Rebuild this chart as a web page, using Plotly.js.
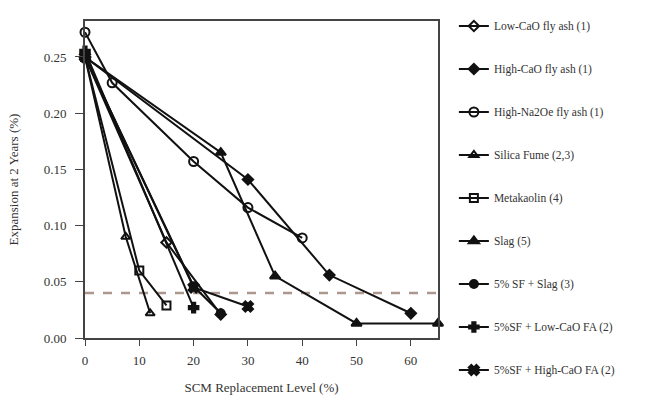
<!DOCTYPE html>
<html>
<head>
<meta charset="utf-8">
<script src="https://cdn.plot.ly/plotly-3.0.1.min.js"></script>
<style>html,body{margin:0;padding:0;background:#fff;}#chart{width:663px;height:409px;}</style>
</head>
<body>
<div id="chart"></div>
<script>
// Series names (legend)
const seriesNames = [
  "Low-CaO fly ash (1)",
  "High-CaO fly ash (1)",
  "High-Na2Oe fly ash (1)",
  "Silica Fume (2,3)",
  "Metakaolin (4)",
  "Slag (5)",
  "5% SF + Slag (3)",
  "5%SF + Low-CaO FA (2)",
  "5%SF + High-CaO FA (2)"
];
// Replacement levels (%) and expansions (%)
const lowCaO_x = [0, 15, 25];
const lowCaO_y = [0.25, 0.085, 0.021];
const highCaO_x = [0, 30, 45, 60];
const highCaO_y = [0.25, 0.141, 0.056, 0.022];
const highNa_x = [0, 5, 20, 30, 40];
const highNa_y = [0.272, 0.227, 0.157, 0.116, 0.089];
const sf_x = [0, 7.5, 12];
const sf_y = [0.25, 0.09, 0.022];
const mk_x = [0, 10, 15];
const mk_y = [0.25, 0.06, 0.029];
const slag_x = [0, 25, 35, 50, 65];
const slag_y = [0.25, 0.165, 0.055, 0.013, 0.013];
const sfSlag_x = [0, 20, 25];
const sfSlag_y = [0.25, 0.046, 0.022];
const sfLow_x = [0, 20];
const sfLow_y = [0.255, 0.027];
const sfHigh_x = [0, 20, 30];
const sfHigh_y = [0.25, 0.045, 0.028];
// Limit line
const limit_x = [0, 65];
const limit_y = [0.04, 0.04];

const xs = [lowCaO_x, highCaO_x, highNa_x, sf_x, mk_x, slag_x, sfSlag_x, sfLow_x, sfHigh_x];
const ys = [lowCaO_y, highCaO_y, highNa_y, sf_y, mk_y, slag_y, sfSlag_y, sfLow_y, sfHigh_y];
const symbols = ["diamond-open", "diamond", "circle-open", "triangle-up-open", "square-open",
                 "triangle-up", "circle", "cross", "x"];
const sizes = [8, 8, 9, 8, 8, 9, 8, 8, 9];

const traces = [];
traces.push({
  x: limit_x, y: limit_y, mode: "lines", showlegend: false, hoverinfo: "skip",
  line: {color: "#ab978e", width: 2.5, dash: "dash"}
});
for (let i = 0; i < seriesNames.length; i++) {
  traces.push({
    x: xs[i], y: ys[i], name: seriesNames[i], mode: "lines+markers",
    legendgroup: "g" + i, cliponaxis: false,
    line: {color: "#111", width: 2},
    marker: {symbol: symbols[i], size: sizes[i], color: "#111",
             line: {color: "#111", width: 2}}
  });
}

const layout = {
  width: 663, height: 409,
  margin: {l: 85, r: 225, t: 17, b: 71},
  paper_bgcolor: "#fff", plot_bgcolor: "#fff",
  font: {family: "Liberation Serif, Times New Roman, serif", color: "#333", size: 12},
  xaxis: {
    range: [0, 65], tickvals: [0, 10, 20, 30, 40, 50, 60],
    showgrid: false, zeroline: false,
    showline: true, linecolor: "#444", linewidth: 2, mirror: true,
    ticks: "outside", ticklen: 6, tickcolor: "#444", tickwidth: 1,
    ticklabelstandoff: 3,
    tickfont: {size: 13, color: "#333"},
    title: {text: "SCM Replacement Level (%)", font: {size: 13, color: "#333"}, standoff: 16}
  },
  yaxis: {
    range: [0, 0.282], tickvals: [0, 0.05, 0.10, 0.15, 0.20, 0.25], tickformat: ".2f",
    showgrid: false, zeroline: false,
    showline: true, linecolor: "#444", linewidth: 2, mirror: true,
    ticks: "outside", ticklen: 8, tickcolor: "#444", tickwidth: 1,
    ticklabelstandoff: 6,
    tickfont: {size: 13, color: "#333"},
    title: {text: "Expansion at 2 Years (%)", font: {size: 13, color: "#333"}, standoff: 22}
  },
  showlegend: true,
  legend: {
    x: 1.045, xanchor: "left", y: 1.03, yanchor: "top",
    font: {size: 11.5, color: "#333"}, tracegroupgap: 24, maxheight: 2000,
    bgcolor: "rgba(0,0,0,0)", itemwidth: 30
  }
};

Plotly.newPlot("chart", traces, layout, {displayModeBar: false, staticPlot: true});
</script>
</body>
</html>
